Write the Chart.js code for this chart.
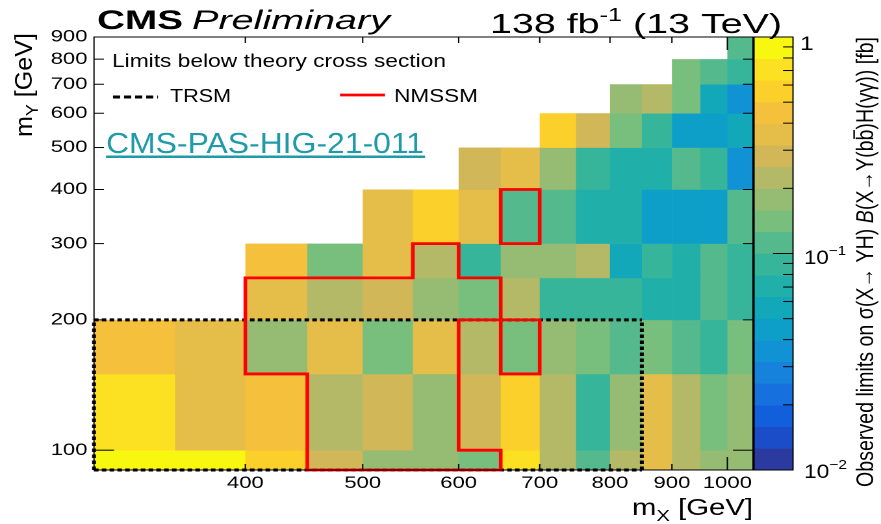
<!DOCTYPE html>
<html><head><meta charset="utf-8">
<script src="https://cdn.jsdelivr.net/npm/chart.js@4.4.0/dist/chart.umd.min.js"></script>
<style>
html,body{margin:0;padding:0;background:#fff;overflow:hidden;}
#wrap{width:881px;height:524px;overflow:hidden;position:relative;}
#c{display:block;transform-origin:0 0;}
</style></head><body>
<div id="wrap"><canvas id="c" width="678" height="524"></canvas></div>
<script>
// ---------------- data ----------------
const mXEdges = [300,350,400,450,500,550,600,650,700,750,800,850,900,950,1000,1050];
const mYEdges = [90,100,150,200,250,300,400,500,600,700,800,900];
const mXTicks = [400,500,600,700,800,900,1000];
const mYTicks = [100,200,300,400,500,600,700,800,900];
const zMajorTicks = [0.01,0.1,1];
const zMinorTicks = [0.02,0.03,0.04,0.05,0.06,0.07,0.08,0.09,0.2,0.3,0.4,0.5,0.6,0.7,0.8,0.9];

// observed limits [fb], one array per mY bin (columns follow mXEdges bins)
const obs_mY90  = [0.89,0.89,0.56,0.28,0.18,0.18,0.14,0.71,0.22,0.11,0.22,0.35,0.22,0.18,0.18];
const obs_mY100 = [0.71,0.35,0.45,0.22,0.28,0.18,0.28,0.56,0.22,0.089,0.18,0.35,0.22,0.14,0.18];
const obs_mY150 = [0.45,0.35,0.18,0.35,0.14,0.35,0.22,0.14,0.18,0.14,0.11,0.14,0.11,0.089,0.14];
const obs_mY200 = [null,null,0.35,0.22,0.28,0.18,0.14,0.22,0.089,0.089,0.089,0.071,0.071,0.11,0.089];
const obs_mY250 = [null,null,0.45,0.14,0.35,0.22,0.089,0.18,0.18,0.22,0.056,0.089,0.071,0.11,0.089];
const obs_mY300 = [null,null,null,null,0.35,0.56,0.35,0.11,0.11,0.071,0.071,0.045,0.045,0.045,0.11];
const obs_mY400 = [null,null,null,null,null,null,0.28,0.35,0.18,0.089,0.071,0.071,0.11,0.089,0.035];
const obs_mY500 = [null,null,null,null,null,null,null,null,0.56,0.28,0.14,0.089,0.045,0.045,0.056];
const obs_mY600 = [null,null,null,null,null,null,null,null,null,null,0.18,0.22,0.14,0.056,0.035];
const obs_mY700 = [null,null,null,null,null,null,null,null,null,null,null,null,0.14,0.11,0.089];
const obs_mY800 = [null,null,null,null,null,null,null,null,null,null,null,null,null,null,0.11];
const obsRows = [obs_mY90,obs_mY100,obs_mY150,obs_mY200,obs_mY250,obs_mY300,obs_mY400,obs_mY500,obs_mY600,obs_mY700,obs_mY800];

// cells (lower mX edge, lower mY edge) with limits below theory
const trsm_mX  = [300,350,400,450,500,550,600,650,700,750,800, 300,350,400,450,500,550,600,650,700,750,800, 300,350,400,450,500,550,600,650,700,750,800];
const trsm_mY  = [90,90,90,90,90,90,90,90,90,90,90, 100,100,100,100,100,100,100,100,100,100,100, 150,150,150,150,150,150,150,150,150,150,150];
const nmssm_mX = [450,500,550,600, 450,500,550, 400,450,500,550,650, 400,450,500,550,600, 550, 650];
const nmssm_mY = [90,90,90,90, 100,100,100, 150,150,150,150,150, 200,200,200,200,200, 250, 300];

// colour palette (20 contour levels, low -> high)
const palette = ['#2b3a9e','#1b4dc8','#125fdc','#1670de','#1782dc','#1092d4','#0d9fc8','#12a7b9','#21afa9','#37b59b',
                 '#54b98c','#78be7d','#96bc73','#b3b966','#d1b758','#e5bd49','#f5c03b','#fcd02b','#fbe122','#f8f710'];
const zMin = 0.01, zMax = 1;

// ---------------- layout helpers ----------------
const CW = 678, CH = 524;
const S = 881 / CW;            // horizontal stretch of the reference picture
const sx = v => v / S;         // screen px -> canvas px
document.getElementById('c').style.transform = 'scaleX(' + S + ')';
const FONT = '"Liberation Sans", Arial, sans-serif';
Chart.defaults.font.family = FONT;

function levelEdge(i) { return Math.pow(10, Math.log10(zMin) + i * (Math.log10(zMax) - Math.log10(zMin)) / palette.length); }
function colorFor(v) {
  const t = (Math.log10(v) - Math.log10(zMin)) / (Math.log10(zMax) - Math.log10(zMin));
  return palette[Math.max(0, Math.min(palette.length - 1, Math.floor(t * palette.length)))];
}

function boundary(mxs, mys) {
  const key = (i, j) => i + ',' + j;
  const set = new Set(mxs.map((mx, k) => key(mXEdges.indexOf(mx), mYEdges.indexOf(mys[k]))));
  const hs = [], vs = [];
  set.forEach(k => {
    const [i, j] = k.split(',').map(Number);
    if (!set.has(key(i - 1, j))) vs.push([i, j, j + 1]);
    if (!set.has(key(i + 1, j))) vs.push([i + 1, j, j + 1]);
    if (!set.has(key(i, j - 1))) hs.push([j, i, i + 1]);
    if (!set.has(key(i, j + 1))) hs.push([j + 1, i, i + 1]);
  });
  const merge = segs => {
    segs.sort((a, b) => a[0] - b[0] || a[1] - b[1]);
    const out = [];
    segs.forEach(s => { const l = out[out.length - 1]; if (l && l[0] === s[0] && l[2] === s[1]) l[2] = s[2]; else out.push(s.slice()); });
    return out;
  };
  return { h: merge(hs), v: merge(vs) };
}

function drawBoundary(ctx, b, xs, ys, st) {
  ctx.save();
  ctx.strokeStyle = st.color; ctx.lineWidth = st.width; ctx.setLineDash(st.dash); ctx.lineCap = st.cap;
  ctx.beginPath();
  b.h.forEach(([j, i0, i1]) => { const py = ys.getPixelForValue(mYEdges[j]); ctx.moveTo(xs.getPixelForValue(mXEdges[i0]), py); ctx.lineTo(xs.getPixelForValue(mXEdges[i1]), py); });
  b.v.forEach(([i, j0, j1]) => { const px = xs.getPixelForValue(mXEdges[i]); ctx.moveTo(px, ys.getPixelForValue(mYEdges[j0])); ctx.lineTo(px, ys.getPixelForValue(mYEdges[j1])); });
  ctx.stroke();
  ctx.restore();
}

// text parts drawn in screen coordinates (inside ctx.scale(1/S,1))
function drawParts(ctx, parts, x, y, opt) {
  ctx.save();
  ctx.fillStyle = opt.color || '#000';
  ctx.textBaseline = 'alphabetic'; ctx.textAlign = 'left';
  let total = 0;
  const ws = parts.map(p => { ctx.font = (p.st || '') + ' ' + p.s + 'px ' + FONT; const w = ctx.measureText(p.t).width; total += w; return w; });
  const k = opt.width ? opt.width / total : (opt.k || 1);
  ctx.translate(x, y);
  if (opt.rotate) ctx.rotate(-Math.PI / 2);
  ctx.scale(k, opt.h || 1);
  if (opt.align === 'right') ctx.translate(-total, 0);
  let cx = 0;
  parts.forEach((p, i) => {
    ctx.font = (p.st || '') + ' ' + p.s + 'px ' + FONT;
    ctx.fillText(p.t, cx, p.dy || 0);
    if (p.over) ctx.fillRect(cx + 0.08 * p.s, -0.82 * p.s, ws[i] - 0.1 * p.s, 1.3);
    cx += ws[i];
  });
  ctx.restore();
}

function line(ctx, x0, y0, x1, y1) { ctx.beginPath(); ctx.moveTo(x0, y0); ctx.lineTo(x1, y1); ctx.stroke(); }

const rootPlugin = {
  id: 'rootHeatmap',
  beforeDatasetsDraw(chart) {
    const { ctx, scales: { x, y } } = chart;
    obsRows.forEach((row, j) => row.forEach((v, i) => {
      if (v == null) return;
      const x0 = x.getPixelForValue(mXEdges[i]), x1 = x.getPixelForValue(mXEdges[i + 1]);
      const y0 = y.getPixelForValue(mYEdges[j]), y1 = y.getPixelForValue(mYEdges[j + 1]);
      ctx.fillStyle = colorFor(v);
      ctx.fillRect(x0, y1, x1 - x0 + 0.3, y0 - y1 + 0.3);
    }));
  },
  afterDatasetsDraw(chart) {
    const { ctx, chartArea: a, scales: { x, y, z } } = chart;
    // contours
    drawBoundary(ctx, boundary(trsm_mX, trsm_mY), x, y, { color: '#000', width: 3, dash: [3.5, 2.5], cap: 'butt' });
    drawBoundary(ctx, boundary(nmssm_mX, nmssm_mY), x, y, { color: '#ff0000', width: 2.8, dash: [], cap: 'square' });
    // frame + ticks
    ctx.save();
    ctx.strokeStyle = '#000'; ctx.lineWidth = 1;
    ctx.strokeRect(a.left, a.top, a.right - a.left, a.bottom - a.top);
    mXTicks.forEach(v => { const px = x.getPixelForValue(v); const L = v === 1000 ? 13 : 6; line(ctx, px, a.bottom, px, a.bottom - L); line(ctx, px, a.top, px, a.top + L); });
    mYTicks.forEach(v => { const py = y.getPixelForValue(v); const L = sx(v === 100 ? 20 : 10); line(ctx, a.left, py, a.left + L, py); line(ctx, a.right, py, a.right - L, py); });
    // colour bar
    const cbL = sx(754), cbR = sx(793);
    palette.forEach((c, i) => {
      const y0 = z.getPixelForValue(levelEdge(i)), y1 = z.getPixelForValue(levelEdge(i + 1));
      ctx.fillStyle = c; ctx.fillRect(cbL, y1, cbR - cbL, y0 - y1 + 0.3);
    });
    ctx.strokeRect(cbL, z.top, cbR - cbL, z.bottom - z.top);
    zMajorTicks.forEach(v => { const py = z.getPixelForValue(v); line(ctx, cbR, py, cbR - sx(20), py); });
    zMinorTicks.forEach(v => { const py = z.getPixelForValue(v); line(ctx, cbR, py, cbR - sx(10), py); });
    // legend samples
    ctx.lineWidth = 3; ctx.setLineDash([5.5, 3]);
    line(ctx, sx(113), 97, sx(158), 97);
    ctx.setLineDash([]); ctx.strokeStyle = '#ff0000'; ctx.lineWidth = 2.8;
    line(ctx, sx(340), 95, sx(385), 95);
    ctx.restore();

    // texts in screen coordinates
    ctx.save();
    ctx.scale(1 / S, 1);
    drawParts(ctx, [{ t: 'CMS', s: 27, st: 'bold' }], 97, 29, { width: 86 });
    drawParts(ctx, [{ t: 'Preliminary', s: 27, st: 'italic' }], 192, 29, { width: 198 });
    drawParts(ctx, [{ t: '138 fb', s: 28 }, { t: '-1', s: 18, dy: -12 }, { t: ' (13 TeV)', s: 28 }], 490, 33, { width: 292 });
    drawParts(ctx, [{ t: 'Limits below theory cross section', s: 18 }], 112, 67, { width: 334 });
    drawParts(ctx, [{ t: 'TRSM', s: 18 }], 170, 102, { width: 61 });
    drawParts(ctx, [{ t: 'NMSSM', s: 18 }], 394, 102, { width: 84 });
    drawParts(ctx, [{ t: 'CMS-PAS-HIG-21-011', s: 29 }], 106, 153, { width: 318, color: '#1e9aa9' });
    ctx.fillStyle = '#1e9aa9'; ctx.fillRect(106, 155.5, 319, 2.5);
    // axis titles
    drawParts(ctx, [{ t: 'm', s: 23 }, { t: 'X', s: 16, dy: 6 }, { t: ' [GeV]', s: 23 }], 632, 515, { width: 121 });
    drawParts(ctx, [{ t: 'm', s: 24 }, { t: 'Y', s: 17, dy: 6 }, { t: ' [GeV]', s: 24 }], 32, 137, { width: 104, rotate: true });
    drawParts(ctx, [
      { t: 'Observed limits on \u03c3(X\u2192 YH) ', s: 20 }, { t: 'B', s: 20, st: 'italic' },
      { t: '(X\u2192Y(b', s: 20 }, { t: 'b', s: 20, over: true }, { t: ')H(\u03b3\u03b3)) [fb]', s: 20 }
    ], 873, 487, { width: 450, rotate: true, h: 1.2 });
    // colour bar labels
    drawParts(ctx, [{ t: '1', s: 19 }], 800, 50, { k: 1.3 });
    drawParts(ctx, [{ t: '10', s: 19 }, { t: '\u22121', s: 13, dy: -9 }], 804, 264, { width: 42 });
    drawParts(ctx, [{ t: '10', s: 19 }, { t: '\u22122', s: 13, dy: -9 }], 804, 478, { width: 43 });
    ctx.restore();
  }
};

new Chart(document.getElementById('c'), {
  type: 'scatter',
  data: { datasets: [] },
  options: {
    responsive: false, animation: false, devicePixelRatio: 2,
    layout: { padding: { top: 37, left: 0, right: 0, bottom: 0 } },
    plugins: { legend: { display: false }, tooltip: { enabled: false } },
    scales: {
      x: {
        type: 'logarithmic', min: 300, max: 1050, position: 'bottom',
        grid: { display: false, drawTicks: false }, border: { display: false },
        afterBuildTicks: s => { s.ticks = mXTicks.map(v => ({ value: v })); },
        afterFit: s => { s.height = CH - 470; },
        ticks: { font: { size: 17 }, color: '#000', padding: 3, maxRotation: 0, minRotation: 0, autoSkip: false, callback: v => String(v) }
      },
      y: {
        type: 'logarithmic', min: 90, max: 900, position: 'left',
        grid: { display: false, drawTicks: false }, border: { display: false },
        afterBuildTicks: s => { s.ticks = mYTicks.map(v => ({ value: v })); },
        afterFit: s => { s.width = sx(94); },
        ticks: { font: { size: 17 }, color: '#000', padding: 5, autoSkip: false, callback: v => String(v) }
      },
      z: {
        type: 'logarithmic', min: zMin, max: zMax, position: 'right',
        grid: { display: false, drawTicks: false }, border: { display: false },
        ticks: { display: false },
        afterFit: s => { s.width = CW - sx(753); }
      }
    }
  },
  plugins: [rootPlugin]
});
</script>
</body></html>
